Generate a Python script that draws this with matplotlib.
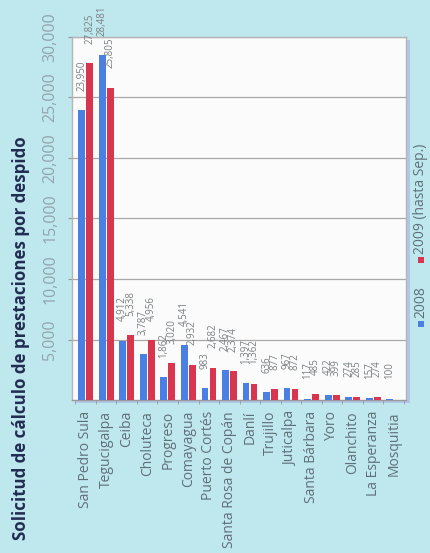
import numpy as np
import matplotlib
matplotlib.use("Agg")
import matplotlib.pyplot as plt
from matplotlib.patches import Rectangle

plt.rcParams['font.family'] = ['Open Sans', 'DejaVu Sans']

ciudades = ["San Pedro Sula", "Tegucigalpa", "Ceiba", "Choluteca", "Progreso",
            "Comayagua", "Puerto Cortés", "Santa Rosa de Copán", "Danlí", "Trujillo",
            "Juticalpa", "Santa Bárbara", "Yoro", "Olanchito", "La Esperanza", "Mosquitia"]
v2008 = [23950, 28481, 4912, 3787, 1862, 4541, 983, 2467, 1397, 636,
         967, 117, 422, 274, 157, 100]
v2009 = [27825, 25805, 5338, 4956, 3020, 2932, 2682, 2374, 1362, 877,
         872, 485, 399, 285, 274, np.nan]
yticks = [5000, 10000, 15000, 20000, 25000, 30000]

bg = "#bee8ee"
azul = "#4a7fe4"
rojo = "#d8354e"

fig = plt.figure(figsize=(4.3, 5.53), dpi=100, facecolor=bg)
W, H = 430, 553
x0, x1, ytop, ybot = 72, 406, 37, 400

# sombra del panel, detras de los ejes
sombra = Rectangle(((x0 + 4) / W, 1 - (ybot + 3) / H), (x1 - x0) / W, (ybot - ytop) / H,
                   transform=fig.transFigure, facecolor="#b3c6e8", edgecolor="none", zorder=-5)
fig.patches.append(sombra)

ax = fig.add_axes([x0 / W, 1 - ybot / H, (x1 - x0) / W, (ybot - ytop) / H])
ax.set_zorder(2)
ax.set_facecolor("#fbfbfb")

x = np.arange(len(ciudades))
w = 0.33
ax.bar(x - 0.19, v2008, w, color=azul, zorder=3)
ax.bar(x + 0.2, v2009, w, color=rojo, zorder=3)

for xi, a, b in zip(x, v2008, v2009):
    for off, v in ((-0.19, a), (0.2, b)):
        if np.isnan(v):
            continue
        ax.annotate(f"{int(v):,}", (xi + off, v), xytext=(0, 14), textcoords="offset points",
                    rotation=90, ha="center", va="bottom", fontsize=7, color="#7a7f82",
                    annotation_clip=False)

ax.set_xlim(-0.66, 15.6)
ax.set_ylim(0, 30000)
ax.set_yticks(yticks)
ax.set_yticklabels([f"{t:,}" for t in yticks], rotation=90, va="center", ha="right",
                   fontsize=11.5, color="#92a4ad")
ax.set_xticks(x)
ax.set_xticklabels(ciudades, rotation=90, ha="center", va="top", fontsize=10, color="#5f6f76")
ax.set_xticks(np.arange(len(ciudades) + 1) - 0.5, minor=True)
ax.tick_params(axis="x", which="major", length=0, pad=8)
ax.tick_params(axis="x", which="minor", length=3, color="#9a9a9a")
ax.tick_params(axis="y", length=3, color="#9a9a9a", pad=7)

ax.grid(axis="y", color="#a8a8a8", linewidth=0.9, zorder=1)
for s in ("top", "right", "left", "bottom"):
    ax.spines[s].set_color("#b5b5b5")
    ax.spines[s].set_linewidth(1.0)
ax.spines["bottom"].set_color("#9a9a9a")

fig.text(21 / W, 1 - 338 / H, "Solicitud de cálculo de prestaciones por despido",
         rotation=90, ha="center", va="center", fontsize=12.2, fontweight="bold", color="#222c52")

# leyenda
sq = 6
fig.patches.append(Rectangle((418 / W, 1 - 327 / H), sq / W, sq / H, transform=fig.transFigure,
                             facecolor=azul, edgecolor="none"))
fig.text(421 / W, 1 - 318 / H, "2008", rotation=90, ha="center", va="bottom",
         fontsize=10, color="#5f6f76")
fig.patches.append(Rectangle((418 / W, 1 - 263 / H), sq / W, sq / H, transform=fig.transFigure,
                             facecolor=rojo, edgecolor="none"))
fig.text(421 / W, 1 - 254 / H, "2009 (hasta Sep.)", rotation=90, ha="center", va="bottom",
         fontsize=10, color="#5f6f76")

fig.savefig("out.png", dpi=100, facecolor=bg)
